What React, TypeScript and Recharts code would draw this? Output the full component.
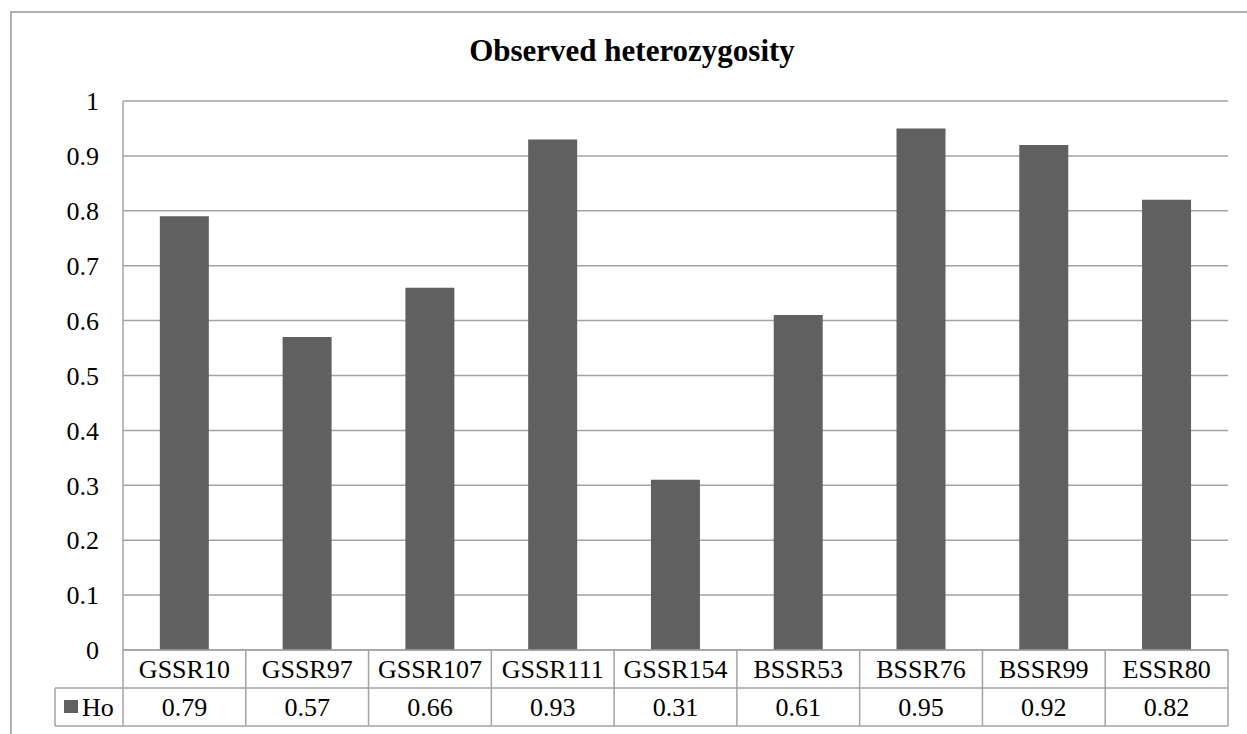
import React from "react";
import { BarChart, Bar, XAxis, YAxis, CartesianGrid } from "recharts";

const markers = ["GSSR10", "GSSR97", "GSSR107", "GSSR111", "GSSR154", "BSSR53", "BSSR76", "BSSR99", "ESSR80"];
const hoValues = [0.79, 0.57, 0.66, 0.93, 0.31, 0.61, 0.95, 0.92, 0.82];
const yTicks = [0, 0.1, 0.2, 0.3, 0.4, 0.5, 0.6, 0.7, 0.8, 0.9, 1];
const seriesName = "Ho";

const chartData = markers.map((m, i) => ({ marker: m, ho: hoValues[i] }));

const W = 1247;
const H = 734;
const margin = { top: 101, right: 19, bottom: 0, left: 0 };
const yAxisWidth = 123;
const xAxisHeight = 84;
const plotW = W - margin.left - margin.right - yAxisWidth;
const bandW = plotW / markers.length;

const FONT = "Times New Roman, Liberation Serif, Tinos, serif";
const BAR = "#606060";
const LINE = "#a3a3a3";
const ROW = 38;
const txt = { fontFamily: FONT, fontSize: 26 };

// x axis tick draws one column of the data table under the plot
const TableTick = (props: any) => {
  const { x, y, payload, index } = props;
  const left = x - bandW / 2;
  const right = x + bandW / 2;
  return (
    <g>
      <text x={x} y={y + ROW / 2} dy="0.35em" textAnchor="middle" style={txt} fill="#000">
        {payload.value}
      </text>
      <text x={x} y={y + ROW * 1.5} dy="0.35em" textAnchor="middle" style={txt} fill="#000">
        {hoValues[index].toFixed(2)}
      </text>
      <line x1={left} x2={right} y1={y + ROW} y2={y + ROW} stroke={LINE} strokeWidth={1.5} />
      <line x1={left} x2={right} y1={y + ROW * 2} y2={y + ROW * 2} stroke={LINE} strokeWidth={1.5} />
      <line x1={right} x2={right} y1={y} y2={y + ROW * 2} stroke={LINE} strokeWidth={1.5} />
      {index === 0 && (
        <g>
          <line x1={left} x2={left} y1={y} y2={y + ROW * 2} stroke={LINE} strokeWidth={1.5} />
          <line x1={left - 68} x2={left} y1={y + ROW} y2={y + ROW} stroke={LINE} strokeWidth={1.5} />
          <line x1={left - 68} x2={left} y1={y + ROW * 2} y2={y + ROW * 2} stroke={LINE} strokeWidth={1.5} />
          <line x1={left - 68} x2={left - 68} y1={y + ROW} y2={y + ROW * 2} stroke={LINE} strokeWidth={1.5} />
          <rect x={left - 59} y={y + ROW * 1.5 - 7} width={14} height={13} fill={BAR} />
          <text x={left - 41} y={y + ROW * 1.5} dy="0.35em" textAnchor="start" style={txt} fill="#000">
            {seriesName}
          </text>
        </g>
      )}
    </g>
  );
};

export default function App() {
  return (
    <div
      style={{
        position: "absolute",
        left: 0,
        top: 0,
        width: W,
        height: H,
        background: "#fff",
        overflow: "hidden",
        fontFamily: FONT,
      }}
    >
      <div
        style={{
          position: "absolute",
          left: 10,
          top: 11,
          width: W,
          height: H,
          borderTop: "2px solid #b0b0b0",
          borderLeft: "2px solid #b0b0b0",
        }}
      />
      <div
        style={{
          position: "absolute",
          left: 0,
          width: 1264,
          top: 35,
          textAlign: "center",
          fontFamily: FONT,
          fontWeight: "bold",
          fontSize: 31,
          lineHeight: "31px",
          color: "#000",
        }}
      >
        Observed heterozygosity
      </div>
      <div style={{ position: "absolute", left: 0, top: 0 }}>
        <BarChart width={W} height={H} data={chartData} margin={margin} barCategoryGap="30%">
          <CartesianGrid horizontal={true} vertical={false} stroke={LINE} strokeWidth={1.5} />
          <YAxis
            type="number"
            domain={[0, 1]}
            ticks={yTicks}
            width={yAxisWidth}
            tickSize={0}
            tickMargin={24}
            axisLine={{ stroke: LINE, strokeWidth: 1.5 }}
            tickLine={false}
            tick={{ fontSize: 26, fontFamily: FONT, fill: "#000", style: txt }}
            tickFormatter={(v: number) => String(v)}
          />
          <XAxis
            dataKey="marker"
            tickSize={0}
            tickMargin={0}
            interval={0}
            axisLine={{ stroke: LINE, strokeWidth: 1.5 }}
            tickLine={false}
            tick={<TableTick />}
            height={xAxisHeight}
          />
          <Bar dataKey="ho" name={seriesName} fill={BAR} isAnimationActive={false} />
        </BarChart>
      </div>
    </div>
  );
}
